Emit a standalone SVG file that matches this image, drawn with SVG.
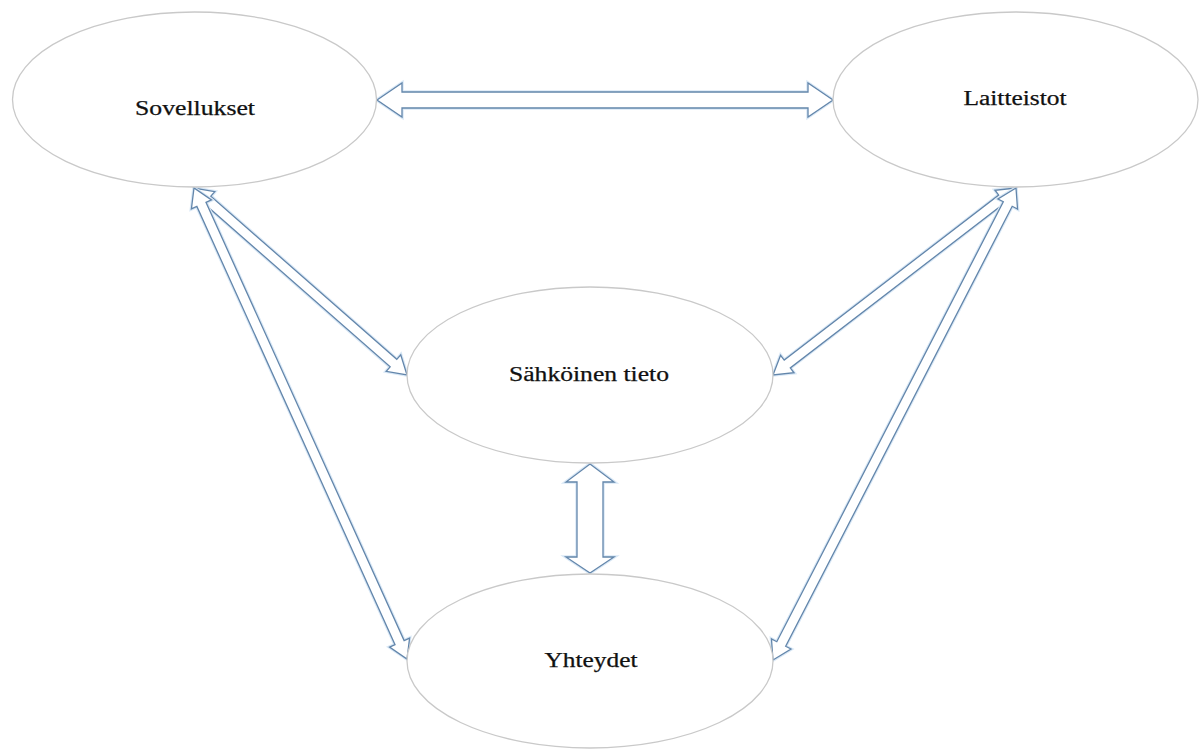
<svg xmlns="http://www.w3.org/2000/svg" width="1200" height="749" viewBox="0 0 1200 749">
<style>
.bg{fill:#ffffff}
.node ellipse{fill:#ffffff;stroke:#c9c9c9;stroke-width:1.3}
.node text{font-family:"Liberation Serif","Times New Roman",serif;font-size:20px;fill:#111111;stroke:#111111;stroke-width:0.25;text-anchor:middle}
.glow{fill:none;stroke:#d9e8f6;stroke-width:3.5;stroke-linejoin:miter}
.arr{fill:#ffffff;stroke:#6386ab;stroke-width:1.3;stroke-linejoin:miter}
</style>
<rect class="bg" x="0" y="0" width="1200" height="749"/>
<g id="connectors">
<g id="c-sov-lai">
<polygon class="glow" points="377,100 402,83 402,92 808,92 808,83 833,100 808,117 808,108 402,108 402,117"/>
<polygon class="arr" points="377,100 402,83 402,92 808,92 808,83 833,100 808,117 808,108 402,108 402,117"/>
</g>
<g id="c-sah-yht">
<polygon class="glow" points="590,464 614,482 603,482 603,557 614,557 590,573 566,557 577,557 577,482 566,482"/>
<polygon class="arr" points="590,464 614,482 603,482 603,557 614,557 590,573 566,557 577,557 577,482 566,482"/>
</g>
<g id="c-sov-sah">
<polygon class="glow" points="194,188 200.27,208.15 204.23,203.64 390.17,366.88 386.21,371.39 407,375 400.73,354.85 396.77,359.36 210.83,196.12 214.79,191.61"/>
<polygon class="arr" points="194,188 200.27,208.15 204.23,203.64 390.17,366.88 386.21,371.39 407,375 400.73,354.85 396.77,359.36 210.83,196.12 214.79,191.61"/>
</g>
<g id="c-sov-yht">
<polygon class="glow" points="194,188 191.40,208.93 196.86,206.46 395.02,644.66 389.56,647.13 407,659 409.60,638.07 404.14,640.54 205.98,202.34 211.44,199.87"/>
<polygon class="arr" points="194,188 191.40,208.93 196.86,206.46 395.02,644.66 389.56,647.13 407,659 409.60,638.07 404.14,640.54 205.98,202.34 211.44,199.87"/>
</g>
<g id="c-lai-sah">
<polygon class="glow" points="1016,188 995.02,190.26 998.68,195.02 784.22,360.06 780.56,355.30 773,375 793.98,372.74 790.32,367.98 1004.78,202.94 1008.44,207.70"/>
<polygon class="arr" points="1016,188 995.02,190.26 998.68,195.02 784.22,360.06 780.56,355.30 773,375 793.98,372.74 790.32,367.98 1004.78,202.94 1008.44,207.70"/>
</g>
<g id="c-lai-yht">
<polygon class="glow" points="1016,188 997.98,198.97 1003.31,201.71 776.79,641.71 771.46,638.97 773,660 791.02,649.03 785.69,646.29 1012.21,206.29 1017.54,209.03"/>
<polygon class="arr" points="1016,188 997.98,198.97 1003.31,201.71 776.79,641.71 771.46,638.97 773,660 791.02,649.03 785.69,646.29 1012.21,206.29 1017.54,209.03"/>
</g>
</g>
<g id="sovellukset" class="node">
<ellipse cx="194.5" cy="99.5" rx="182" ry="87.5"/>
<text x="195" y="115" textLength="120" lengthAdjust="spacingAndGlyphs">Sovellukset</text>
</g>
<g id="laitteistot" class="node">
<ellipse cx="1015.5" cy="99.5" rx="182.5" ry="87.5"/>
<text x="1015" y="105" textLength="103" lengthAdjust="spacingAndGlyphs">Laitteistot</text>
</g>
<g id="sahkoinen" class="node">
<ellipse cx="590" cy="375" rx="183" ry="88"/>
<text x="589" y="381" textLength="160" lengthAdjust="spacingAndGlyphs">Sähköinen tieto</text>
</g>
<g id="yhteydet" class="node">
<ellipse cx="590" cy="661" rx="183" ry="87"/>
<text x="591" y="667" textLength="93" lengthAdjust="spacingAndGlyphs">Yhteydet</text>
</g>
</svg>
